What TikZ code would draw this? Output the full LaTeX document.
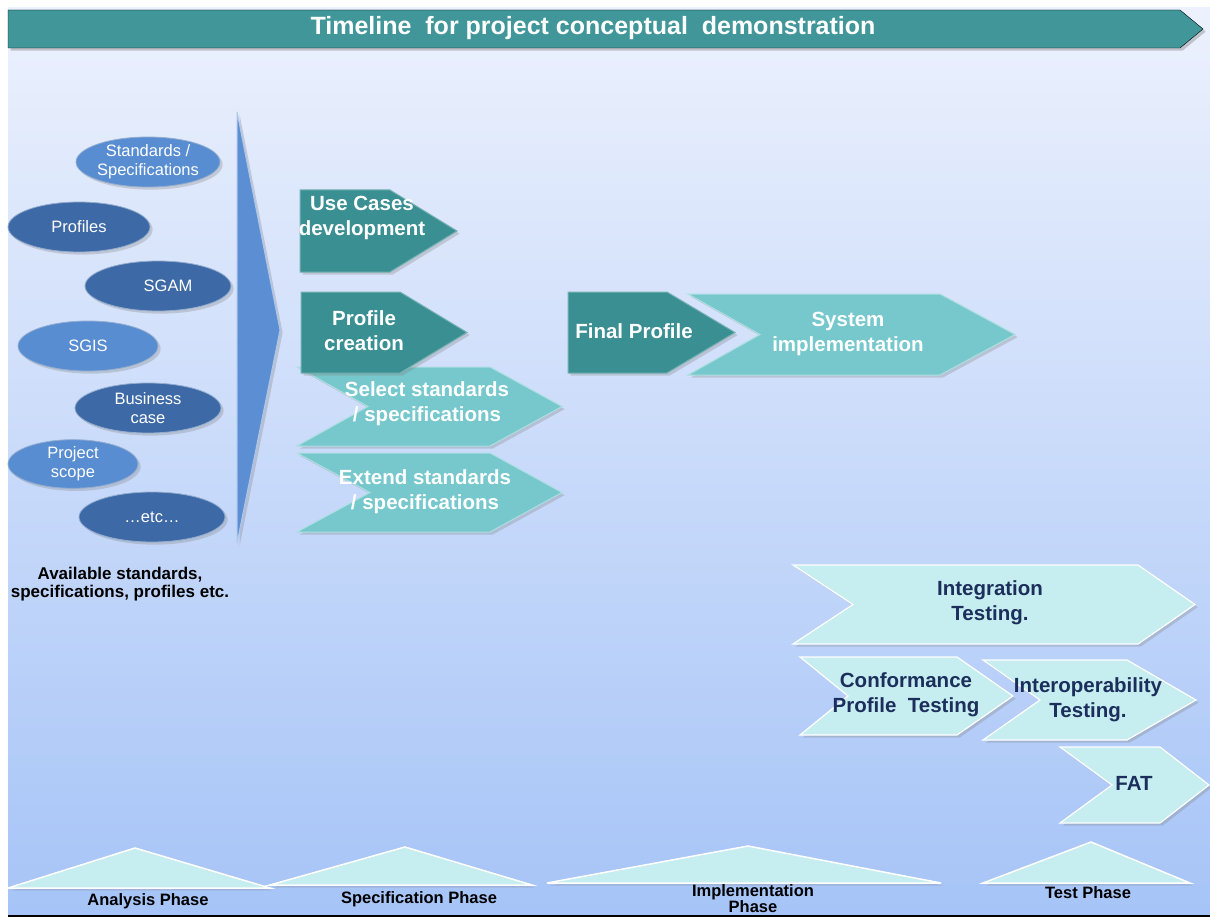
\documentclass[tikz,border=0pt]{standalone}
\usepackage{fontspec}
\setmainfont{Liberation Sans}
\usetikzlibrary{shapes.geometric,shadows}

\definecolor{bgtop}{RGB}{236,241,253}
\definecolor{bgbot}{RGB}{166,196,247}
\definecolor{titleteal}{RGB}{64,150,153}
\definecolor{darkteal}{RGB}{58,143,146}
\definecolor{midteal}{RGB}{118,200,204}
\definecolor{paleteal}{RGB}{198,237,239}
\definecolor{navytext}{RGB}{28,46,92}
\definecolor{blobdark}{RGB}{61,106,166}
\definecolor{bloblight}{RGB}{88,141,210}
\definecolor{bigarrow}{RGB}{92,142,212}
\definecolor{baseline}{RGB}{72,112,182}

% tag: left, top, body right, tip, bottom, style
\def\drawtag#1#2#3#4#5#6{%
  \draw [#6] (#1,#2) -- (#3,#2) -- (#4,{(#2+#5)/2}) -- (#3,#5) -- (#1,#5) -- cycle;
}
% chevron: left, top, body right, tip, bottom, notch, style
\def\drawchevron#1#2#3#4#5#6#7{%
  \draw [#7] (#1,#2) -- (#3,#2) -- (#4,{(#2+#5)/2}) -- (#3,#5) -- (#1,#5)
  -- (#6,{(#2+#5)/2}) -- cycle;
}
% phase triangle: left, right, apex x, apex y, base y
\def\drawphase#1#2#3#4#5{%
  \draw [phase] (#1,#5) -- (#3,#4) -- (#2,#5) -- cycle;
}

\tikzset{
  darktag/.style={fill=darkteal, draw=darkteal!70!white, line width=1pt,
    drop shadow={opacity=.3}},
  midtag/.style={fill=midteal, draw=midteal!60!white, line width=1pt,
    drop shadow={opacity=.3}},
  paletag/.style={fill=paleteal, draw=white, line width=1.2pt,
    drop shadow={opacity=.3}},
  phase/.style={fill=paleteal, draw=white, line width=1.5pt,
    drop shadow={opacity=.25}},
  boxtext/.style={font=\bfseries\fontsize{20.5}{25}\selectfont, text=white,
    align=center},
  testtext/.style={boxtext, text=navytext},
  blob/.style={ellipse, draw=white!45!blobdark, line width=.8pt,
    minimum width=146pt, minimum height=50pt, inner sep=0pt, text=white,
    align=center, font=\fontsize{16.5}{19}\selectfont, drop shadow={opacity=.3}},
  phasetext/.style={font=\bfseries\fontsize{16.5}{16}\selectfont, align=center},
}

\begin{document}
\begin{tikzpicture}[x=1pt, y=-1pt]
  \useasboundingbox (0,0) rectangle (1210,920);

  % background
  \shade [top color=bgtop, bottom color=bgbot] (8,8) rectangle (1210,915);
  \draw [baseline, line width=2pt] (8,916) -- (1210,916);

  % title banner
  \drawtag{8}{10}{1180}{1203}{48}{fill=titleteal, drop shadow={opacity=.4}}
  \node [font=\bfseries\fontsize{25}{28}\selectfont, text=white]
    (title) at (593,28) {Timeline\ \ for project conceptual\ \ demonstration};

  % available inputs
  \node [blob, fill=bloblight, minimum width=140pt] (stds) at (148,162)
    {Standards /\\Specifications};
  \node [blob, fill=blobdark, minimum width=142pt] (profiles) at (79,227) {Profiles};
  \node [blob, fill=blobdark] (sgam) at (158,286) {\hspace{20pt}SGAM};
  \node [blob, fill=bloblight, minimum width=140pt] (sgis) at (88,346) {SGIS};
  \node [blob, fill=blobdark] (business) at (148,408) {Business\\case};
  \node [blob, fill=bloblight, minimum width=130pt, minimum height=48pt]
    (scope) at (73,464) {Project\\scope};
  \node [blob, fill=blobdark] (etc) at (152,517) {\dots etc\dots};

  \draw [fill=bigarrow, draw=bigarrow!50!white, line width=1pt,
    drop shadow={opacity=.3}] (237,112) -- (280,330) -- (237,543) -- cycle;

  \node [font=\bfseries\fontsize{17}{18}\selectfont, align=center]
    (available) at (120,584) {Available standards,\\specifications, profiles etc.};

  % specification phase
  \drawtag{300}{190}{390}{457}{272}{darktag}
  \drawchevron{297}{367}{490}{562}{446}{368}{midtag}
  \drawchevron{297}{453}{490}{562}{532}{370}{midtag}
  \drawtag{301}{292}{400}{467}{373}{darktag}

  \node [boxtext] (usecases) at (362,218) {Use Cases\\development};
  \node [boxtext] (profile) at (364,331) {Profile\\creation};
  \node [boxtext] (select) at (427,404) {Select standards\\/ specifications};
  \node [boxtext] (extend) at (425,492) {Extend standards\\/ specifications};

  % implementation phase
  \drawchevron{688}{294}{940}{1015}{375}{760}{midtag}
  \drawtag{568}{292}{667}{735}{373}{darktag}

  \node [boxtext] (final) at (634,331) {Final Profile};
  \node [boxtext] (system) at (848,334) {System\\implementation};

  % test phase
  \drawchevron{793}{565}{1138}{1195}{644}{853}{paletag}
  \drawchevron{983}{660}{1127}{1196}{740}{1040}{paletag}
  \drawchevron{800}{657}{957}{1013}{735}{848}{paletag}
  \drawchevron{1060}{747}{1160}{1209}{823}{1112}{paletag}

  \node [testtext] (integration) at (990,603) {Integration\\Testing.};
  \node [testtext] (conformance) at (906,695) {Conformance\\Profile\ \ Testing};
  \node [testtext] (interop) at (1088,700) {Interoperability\\Testing.};
  \node [testtext] (fat) at (1134,783) {FAT};

  % phases
  \drawphase{8}{270}{135}{848}{888}
  \drawphase{270}{532}{405}{847}{885}
  \drawphase{547}{941}{748}{846}{883}
  \drawphase{983}{1190}{1091}{842}{883}

  \node [phasetext] (analysis) at (148,901) {Analysis Phase};
  \node [phasetext] (specification) at (419,899) {Specification Phase};
  \node [phasetext] (implementation) at (753,899) {Implementation\\Phase};
  \node [phasetext] (test) at (1088,893) {Test Phase};
\end{tikzpicture}
\end{document}
